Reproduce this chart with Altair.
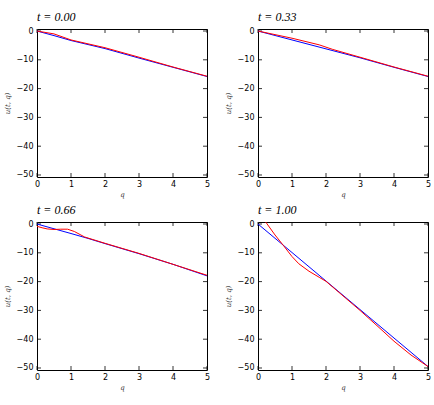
import altair as alt
import pandas as pd

# ---- data ----
titles = ["t = 0.00", "t = 0.33", "t = 0.66", "t = 1.00"]

q_exact_0 = [0.0, 0.5, 1.0, 2.0, 3.0, 4.0, 5.0]
u_exact_0 = [0.0, -1.6, -3.3, -6.1, -9.4, -12.6, -15.8]
q_pred_0 = [0.0, 0.5, 1.0, 2.0, 3.0, 4.0, 5.0]
u_pred_0 = [0.0, -1.0, -3.1, -5.8, -9.1, -12.5, -15.7]

q_exact_1 = [0.0, 1.0, 2.0, 3.0, 4.0, 5.0]
u_exact_1 = [0.0, -3.1, -6.2, -9.3, -12.6, -15.8]
q_pred_1 = [0.0, 1.0, 1.8, 2.2, 3.0, 4.0, 5.0]
u_pred_1 = [0.0, -2.5, -4.8, -6.4, -9.1, -12.5, -15.7]

q_exact_2 = [0.0, 1.0, 1.5, 2.0, 3.0, 4.0, 5.0]
u_exact_2 = [0.0, -3.3, -5.0, -6.8, -10.3, -14.0, -18.0]
q_pred_2 = [0.0, 0.15, 0.3, 0.5, 0.7, 0.9, 1.1, 1.4, 2.0, 3.0, 4.0, 5.0]
u_pred_2 = [-0.8, -1.3, -1.7, -1.9, -1.8, -1.8, -2.6, -4.5, -6.7, -10.2, -14.0, -17.8]

q_exact_3 = [0.0, 5.0]
u_exact_3 = [0.0, -49.5]
q_pred_3 = [0.0, 0.25, 0.5, 0.75, 1.0, 1.2, 1.5, 1.8, 2.0, 3.0, 3.5, 4.0, 4.5, 5.0]
u_pred_3 = [4.0, 0.3, -3.8, -7.5, -11.3, -13.8, -16.4, -18.5, -19.9, -30.0, -35.3, -40.7, -45.5, -49.5]

x_ticks = [0, 1, 2, 3, 4, 5]
y_ticks = [-50, -40, -30, -20, -10, 0]

panels = [
    (q_exact_0, u_exact_0, q_pred_0, u_pred_0),
    (q_exact_1, u_exact_1, q_pred_1, u_pred_1),
    (q_exact_2, u_exact_2, q_pred_2, u_pred_2),
    (q_exact_3, u_exact_3, q_pred_3, u_pred_3),
]

W, H = 170, 148
XDOM = [0, 5]
YDOM = [-50.7, 0.7]
TL = 4  # inward tick length

xs = alt.Scale(domain=XDOM, nice=False, zero=False)
ys = alt.Scale(domain=YDOM, nice=False, zero=False)

xaxis = alt.Axis(values=x_ticks, ticks=False, domain=False, grid=False, labelFont="DejaVu Sans",
                 labelFontSize=8, labelColor="black", labelPadding=3, labelFlush=False,
                 title="q", titleFont="DejaVu Serif", titleFontStyle="italic",
                 titleFontWeight="normal", titleFontSize=7, titlePadding=2, titleColor="#333333")
yaxis = alt.Axis(values=y_ticks, ticks=False, domain=False, grid=False, labelFont="DejaVu Sans",
                 labelFontSize=8, labelColor="black", labelPadding=4, labelFlush=False,
                 title="u(t, q)", titleFont="DejaVu Serif", titleFontStyle="italic",
                 titleFontWeight="normal", titleFontSize=7, titlePadding=6, titleColor="#333333")

xt = pd.DataFrame({"v": x_ticks})
yt = pd.DataFrame({"v": y_ticks})


def panel(i):
    qe, ue, qp, up = panels[i]
    de = pd.DataFrame({"q": qe, "u": ue})
    dp = pd.DataFrame({"q": qp, "u": up})
    base_e = alt.Chart(de).mark_line(color="#0000ff", strokeWidth=1, clip=True).encode(
        x=alt.X("q:Q", scale=xs, axis=xaxis),
        y=alt.Y("u:Q", scale=ys, axis=yaxis),
    )
    base_p = alt.Chart(dp).mark_line(color="#ff0000", strokeWidth=1, clip=True).encode(
        x=alt.X("q:Q", scale=xs, axis=xaxis),
        y=alt.Y("u:Q", scale=ys, axis=yaxis),
    )
    tb = alt.Chart(xt).mark_rule(color="black", strokeWidth=0.8).encode(
        x=alt.X("v:Q", scale=xs, axis=xaxis), y=alt.value(H), y2=alt.value(H - TL))
    tt = alt.Chart(xt).mark_rule(color="black", strokeWidth=0.8).encode(
        x=alt.X("v:Q", scale=xs, axis=xaxis), y=alt.value(0), y2=alt.value(TL))
    tl = alt.Chart(yt).mark_rule(color="black", strokeWidth=0.8).encode(
        y=alt.Y("v:Q", scale=ys, axis=yaxis), x=alt.value(0), x2=alt.value(TL))
    tr = alt.Chart(yt).mark_rule(color="black", strokeWidth=0.8).encode(
        y=alt.Y("v:Q", scale=ys, axis=yaxis), x=alt.value(W), x2=alt.value(W - TL))
    return alt.layer(tb, tt, tl, tr, base_e, base_p).properties(
        width=W, height=H,
        title=alt.TitleParams(titles[i], anchor="start", frame="group", font="Liberation Serif",
                              fontSize=12, fontWeight="normal", fontStyle="italic",
                              color="black", offset=3),
    )


chart = alt.concat(*[panel(i) for i in range(4)], columns=2,
                   spacing={"row": 45, "column": 51}, bounds="flush").configure_view(
    stroke="black", strokeWidth=1
).properties(padding={"left": 2, "top": 10, "right": 2, "bottom": 5}, background="white")

chart.save("out.html", embed_options={"renderer": "svg", "actions": False})
